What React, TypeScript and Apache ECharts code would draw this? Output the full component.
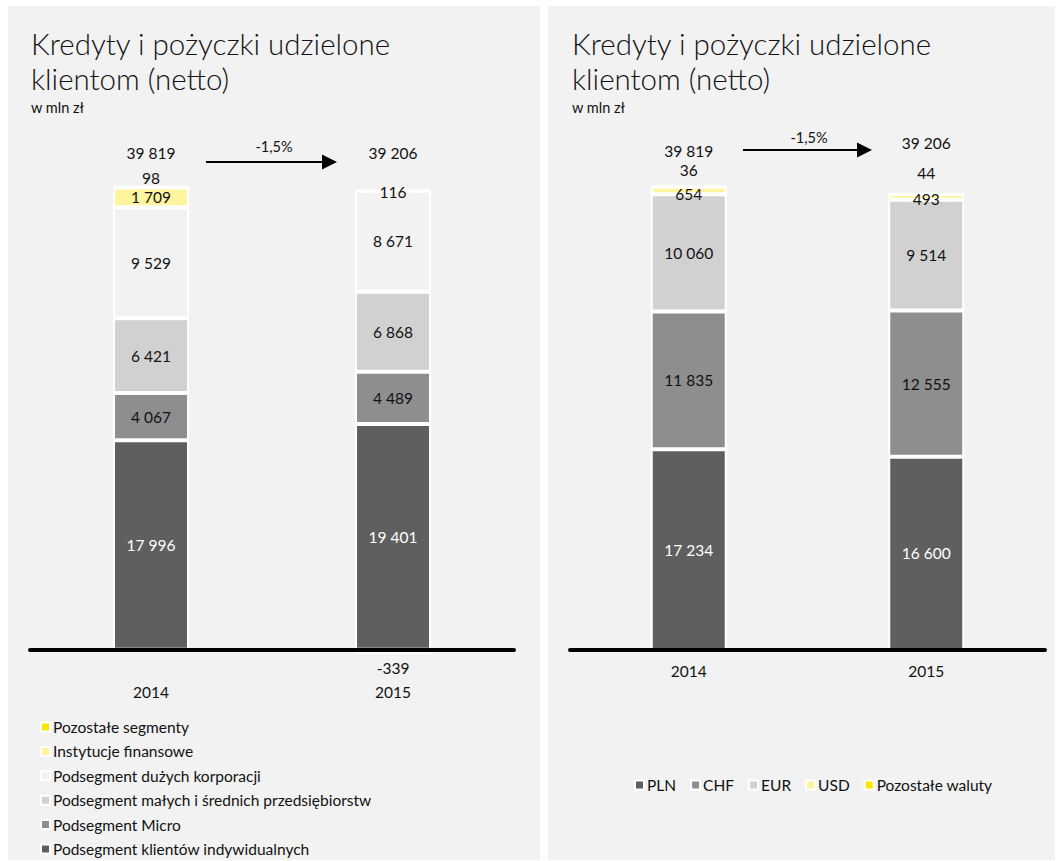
import React, { useEffect, useRef } from "react";
import * as echarts from "echarts";

// ---------- DATA ----------
const categories = ["2014", "2015"];

// Left chart: segments
const segIndywidualni = [17996, 19401];
const segMicro = [4067, 4489];
const segMsp = [6421, 6868];
const segKorporacje = [9529, 8671];
const segInstytucje = [1709, 116];
const segPozostale = [98, -339];
const totalsLeft = [39819, 39206];

// Right chart: currencies
const curPLN = [17234, 16600];
const curCHF = [11835, 12555];
const curEUR = [10060, 9514];
const curUSD = [654, 493];
const curPozostale = [36, 44];
const totalsRight = [39819, 39206];

const changeLabel = "-1,5%";
const titleText = "Kredyty i pożyczki udzielone\nklientom (netto)";
const subtitleText = "w mln zł";

// ---------- STYLE ----------
const FONT = "Lato, 'Noto Sans', sans-serif";
const TXT = "#111111";
const C_DARK = "#5f5f5f";
const C_MID = "#8e8e8e";
const C_LIGHT = "#d1d1d1";
const C_BG = "#f2f2f2";
const C_LYEL = "#fff59f";
const C_YEL = "#ffe600";

const fmt = (v: number) => {
  const s = Math.abs(v).toString().replace(/\B(?=(\d{3})+(?!\d))/g, " ");
  return (v < 0 ? "-" : "") + s;
};

export default function App() {
  const ref = useRef<HTMLDivElement>(null);

  useEffect(() => {
    if (!ref.current) return;
    const chart = echarts.init(ref.current, null, { renderer: "svg" });

    const baseLabel = {
      show: true,
      position: "inside",
      fontSize: 15.5,
      fontFamily: FONT,
      color: TXT,
      formatter: (p: any) => fmt(p.value),
    };

    const barSeries = (
      name: string,
      values: number[],
      color: string,
      axis: number,
      labelColor: string,
      overrides: (any | null)[] = []
    ) => ({
      type: "bar",
      name,
      stack: "s" + axis,
      xAxisIndex: axis,
      yAxisIndex: axis,
      barWidth: 76,
      itemStyle: { color, borderColor: "#ffffff", borderWidth: 2 },
      label: { ...baseLabel, color: labelColor },
      data: values.map((v, i) =>
        overrides[i] ? { value: v, label: overrides[i] } : { value: v }
      ),
      z: 2,
    });

    const totalSeries = (values: number[], axis: number, offsets: number[]) => ({
      type: "scatter",
      name: "Suma" + axis,
      xAxisIndex: axis,
      yAxisIndex: axis,
      symbolSize: 0,
      itemStyle: { color: TXT, opacity: 1 },
      label: {
        show: true,
        position: "inside",
        fontSize: 15.5,
        fontFamily: FONT,
        color: TXT,
        formatter: (p: any) => fmt(p.value),
      },
      data: values.map((v, i) => ({ value: v, label: { offset: [0, offsets[i]] } })),
      z: 5,
    });

    const xAxisBase = (grid: number, margin: number) => ({
      type: "category",
      gridIndex: grid,
      data: categories,
      axisTick: { show: false },
      axisLine: { onZero: true, lineStyle: { color: "#000", width: 4 } },
      axisLabel: { margin, fontSize: 15.5, fontFamily: FONT, color: TXT },
      z: 10,
    });

    const yAxisBase = (grid: number, min: number) => ({
      type: "value",
      gridIndex: grid,
      min,
      max: 45000,
      show: false,
      splitLine: { show: false },
    });

    const arrow = (x1: number, x2: number, y: number) => [
      {
        type: "line",
        shape: { x1, y1: y, x2: x2 - 15, y2: y },
        style: { stroke: "#000", lineWidth: 2 },
        z: 20,
      },
      {
        type: "polygon",
        shape: { points: [[x2 - 15, y - 7.5], [x2, y], [x2 - 15, y + 7.5]] },
        style: { fill: "#000" },
        z: 20,
      },
    ];

    const textEl = (text: string, x: number, y: number, size: number, align = "center") => ({
      type: "text",
      x,
      y,
      style: {
        text,
        fontSize: size,
        fontFamily: FONT,
        fontWeight: "normal",
        fill: TXT,
        align,
        verticalAlign: "middle",
      },
      z: 20,
    });

    const option: any = {
      animation: false,
      backgroundColor: "#ffffff",
      textStyle: { fontFamily: FONT },
      title: [
        {
          text: titleText,
          left: 31,
          top: 26,
          padding: 0,
          textStyle: { fontSize: 29.5, lineHeight: 35, fontWeight: 300, color: "#111", fontFamily: FONT },
        },
        {
          text: titleText,
          left: 572,
          top: 26,
          padding: 0,
          textStyle: { fontSize: 29.5, lineHeight: 35, fontWeight: 300, color: "#111", fontFamily: FONT },
        },
      ],
      legend: [
        {
          orient: "vertical",
          left: 40,
          top: 719,
          itemGap: 8.4,
          itemWidth: 9,
          itemHeight: 9,
          icon: "rect",
          selectedMode: false,
          padding: 0,
          textStyle: { fontSize: 15.5, lineHeight: 16, color: TXT, fontFamily: FONT, padding: [0, 0, 0, -2] },
          data: [
            "Pozostałe segmenty",
            "Instytucje finansowe",
            "Podsegment dużych korporacji",
            "Podsegment małych i średnich przedsiębiorstw",
            "Podsegment Micro",
            "Podsegment klientów indywidualnych",
          ],
        },
        {
          orient: "horizontal",
          left: 634,
          top: 777,
          itemGap: 14,
          itemWidth: 9,
          itemHeight: 9,
          icon: "rect",
          selectedMode: false,
          padding: 0,
          textStyle: { fontSize: 15.5, lineHeight: 16, color: TXT, fontFamily: FONT, padding: [0, 0, 0, -2] },
          data: ["PLN", "CHF", "EUR", "USD", "Pozostałe waluty"],
        },
      ],
      grid: [
        { left: 30, width: 484, top: 126, height: 547 },
        { left: 570, width: 475, top: 126, height: 524 },
      ],
      xAxis: [xAxisBase(0, 11), xAxisBase(1, 13)],
      yAxis: [yAxisBase(0, -2000), yAxisBase(1, 0)],
      series: [
        barSeries("Podsegment klientów indywidualnych", segIndywidualni, C_DARK, 0, "#ffffff"),
        barSeries("Podsegment Micro", segMicro, C_MID, 0, TXT),
        barSeries("Podsegment małych i średnich przedsiębiorstw", segMsp, C_LIGHT, 0, TXT),
        barSeries("Podsegment dużych korporacji", segKorporacje, C_BG, 0, TXT),
        barSeries("Instytucje finansowe", segInstytucje, C_LYEL, 0, TXT, [null, { offset: [0, 2] }]),
        barSeries("Pozostałe segmenty", segPozostale, C_YEL, 0, TXT, [
          { position: "top", distance: 0 },
          { position: "bottom", distance: 6 },
        ]),
        totalSeries(totalsLeft, 0, [-33, -40]),

        barSeries("PLN", curPLN, C_DARK, 1, "#ffffff"),
        barSeries("CHF", curCHF, C_MID, 1, TXT),
        barSeries("EUR", curEUR, C_LIGHT, 1, TXT),
        barSeries("USD", curUSD, C_LYEL, 1, TXT, [{ offset: [0, 3] }, { offset: [0, 2] }]),
        barSeries("Pozostałe waluty", curPozostale, C_YEL, 1, TXT, [
          { position: "top", distance: 8 },
          { position: "top", distance: 12 },
        ]),
        totalSeries(totalsRight, 1, [-35, -50]),
      ],
      graphic: [
        { type: "rect", shape: { x: 8, y: 6, width: 532, height: 854 }, style: { fill: C_BG }, z: -10, silent: true },
        { type: "rect", shape: { x: 548, y: 6, width: 507, height: 854 }, style: { fill: C_BG }, z: -10, silent: true },
        ...arrow(206, 337, 162),
        ...arrow(743, 872, 150),
        textEl(changeLabel, 274, 146, 14.5),
        textEl(changeLabel, 809, 137, 14.5),
        textEl(subtitleText, 31, 107, 14.5, "left"),
        textEl(subtitleText, 572, 107, 14.5, "left"),
      ],
    };

    chart.setOption(option);
    return () => chart.dispose();
  }, []);

  return (
    <div
      ref={ref}
      style={{ position: "absolute", left: 0, top: 0, width: 1056, height: 861 }}
    />
  );
}
